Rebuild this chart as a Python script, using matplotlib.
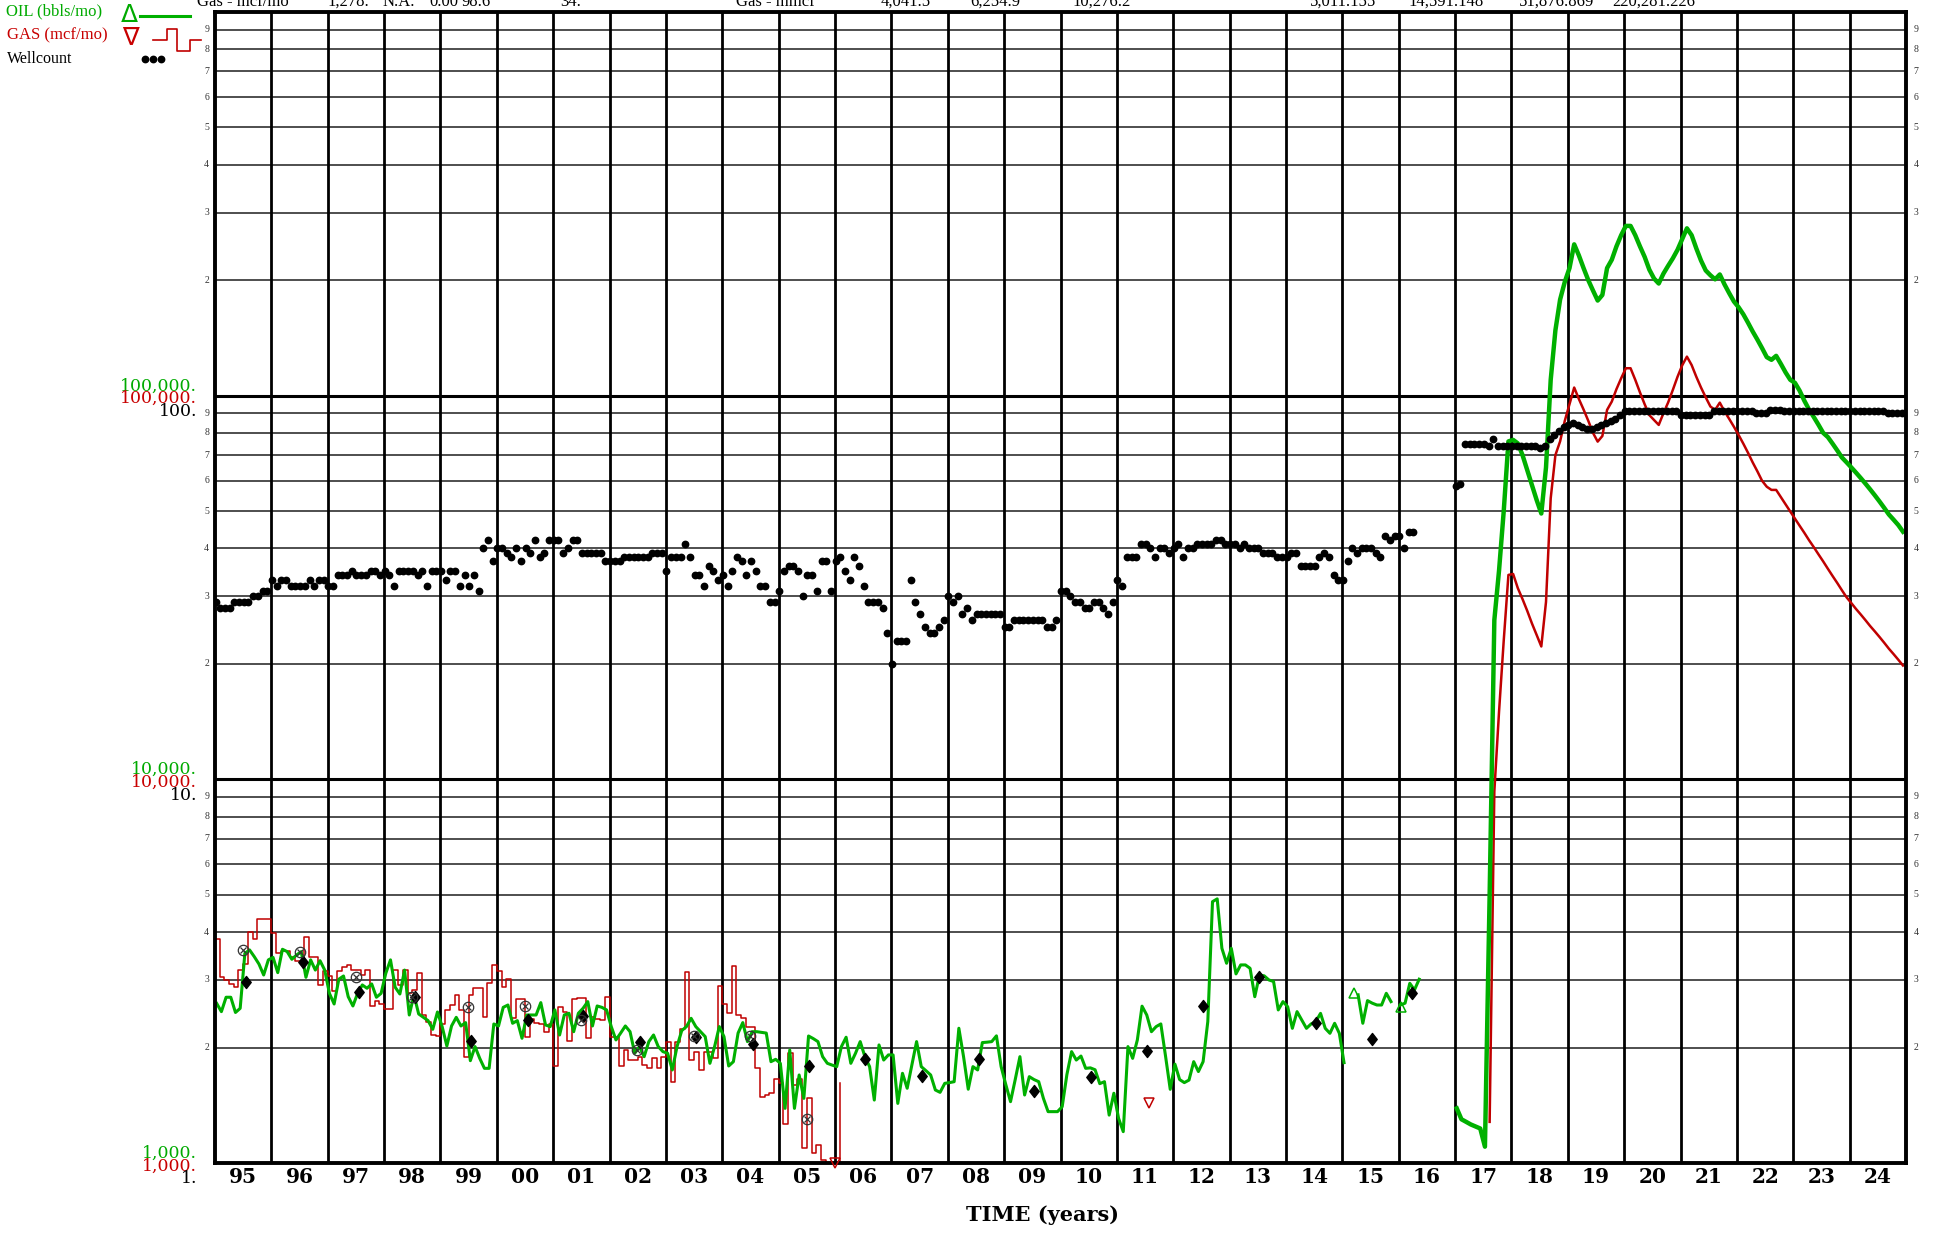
import matplotlib
matplotlib.use("Agg")
import matplotlib.pyplot as plt
import numpy as np
from matplotlib.lines import Line2D
from matplotlib.path import Path
from matplotlib.ticker import NullLocator
from matplotlib.transforms import blended_transform_factory

plt.rcParams["font.family"] = ["DejaVu Serif"]

oil_color = "#00b000"
gas_color = "#c00000"
nan = np.nan

first_year = 1995
last_year = 2024

# Monthly oil, bbls/mo, Jan 1995 .. May 2016 (nan = month not reported)
oil_hist = [
    2606, 2480, 2704, 2704, 2468, 2530, 3520, 3592, 3450, 3300, 3091, 3384,
    3435, 3135, 3606, 3556, 3396, 3485, 3556, 3048, 3384, 3183, 3367, 3183,
    2768, 2597, 3013, 3072, 2713, 2566, 2768, 2911, 2854, 2929, 2704, 2768,
    3122, 3384, 2871, 2757, 3183, 2431, 2741, 2446, 2397, 2350, 2231, 2475,
    2267, 2018, 2276, 2397, 2276, 2322, 1848, 2011, 1874, 1765, 1765, 2303,
    2276, 2545, 2581, 2313, 2350, 2114, 2431, 2431, 2431, 2618, 2290, 2267,
    2506, 2156, 2431, 2456, 2199, 2456, 2531, 2634, 2276, 2566, 2545, 2506,
    2267, 2093, 2181, 2276, 2199, 1932, 2011, 1893, 2072, 2156, 2011, 1951,
    1932, 1748, 2011, 2213, 2267, 2383, 2267, 2200, 2135, 1819, 2011, 2267,
    2135, 1790, 1837, 2181, 2322, 2072, 2199, 2199, 2190, 2181, 1837, 1863,
    1819, 1388, 1970, 1388, 1696, 1474, 2143, 2110, 2072, 1893, 1819, 1800,
    1783, 2011, 2127, 1819, 1932, 2072, 1893, 1783, 1459, 2031, 1855, 1913,
    1913, 1430, 1713, 1566, 1800, 2072, 1783, 1740, 1696, 1550, 1528, 1613,
    1620, 1629, 2245, 1893, 1557, 1783, 1748, 2060, 2065, 2072, 2145, 1783,
    1600, 1445, 1650, 1893, 1504, 1679, 1650, 1629, 1474, 1361, 1361, 1361,
    1402, 1700, 1951, 1855, 1900, 1765, 1770, 1750, 1610, 1629, 1333, 1520,
    1308, 1207, 2011, 1874, 2093, 2563, 2431, 2199, 2267, 2304, 1900, 1556,
    1810, 1650, 1620, 1645, 1837, 1731, 1837, 2337, 4799, 4880, 3627, 3316,
    3627, 3111, 3283, 3283, 3217, 2713, 3091, 3075, 3000, 2972, 2506, 2634,
    2555, 2244, 2480, 2360, 2244, 2304, 2337, 2455, 2244, 2178, 2313, 2178,
    1826, nan, nan, 2743, 2313, 2650, 2610, 2581, 2581, 2769, 2634, nan,
    2581, 2610, 2940, 2826, 3013,
]

# Monthly oil, bbls/mo, Jan 2017 .. Dec 2024
oil_new = [
    1388, 1300, 1280, 1260, 1245, 1230, 1103, 5000, 26000, 35000, 50000, 76000,
    76700, 75100, 70000, 64000, 58500, 53500, 49300, 65000, 110000, 148000, 178000, 198000,
    215000, 248000, 232000, 215000, 200000, 188000, 177000, 183000, 215000, 226000, 245000, 262000,
    277000, 277000, 262000, 245000, 230000, 213000, 202000, 196000, 208000, 218000, 228000, 240000,
    256000, 273000, 262000, 242000, 225000, 212000, 206000, 201000, 207000, 195000, 185000, 176000,
    170000, 163000, 155000, 147000, 140000, 133000, 126000, 124000, 127000, 121000, 115000, 110000,
    108000, 103000, 97000, 92000, 88000, 84000, 80000, 78000, 75000, 72000, 69000, 67000,
    65000, 63000, 61000, 59000, 57000, 55000, 53000, 51000, 49000, 47500, 46000, 44200,
]

# Monthly gas, mcf/mo, Jan 1995 .. Feb 2006 (values under 1,000 fall off the scale)
gas_hist = [
    3835, 3060, 3000, 2930, 2870, 3184, 3300, 3990, 3840, 4330, 4330, 4330,
    3970, 3520, 3570, 3570, 3440, 3370, 3370, 3880, 3440, 3440, 2910, 3170,
    3080, 2800, 3170, 3250, 3280, 3184, 3184, 3090, 3184, 2560, 2650, 2600,
    2520, 2520, 3190, 2910, 3190, 2770, 2820, 3130, 2430, 2330, 2160, 2140,
    2300, 2510, 2580, 2740, 2510, 1893, 2740, 2855, 2855, 2400, 2950, 3280,
    3170, 2870, 3013, 2383, 2680, 2670, 2130, 2370, 2310, 2300, 2200, 2300,
    1790, 2550, 2480, 2075, 2670, 2700, 2700, 2115, 2400, 2380, 2360, 2710,
    2130, 2130, 1790, 1970, 1860, 1860, 1893, 1800, 1765, 1874, 1765, 1893,
    2072, 1629, 2072, 2235, 3153, 1855, 1951, 1745, 1951, 1951, 1874, 2890,
    2600, 2466, 3262, 2431, 2383, 2268, 2268, 1765, 1490, 1504, 1520, 1660,
    1620, 1263, 1932, 1600, 1660, 1091, 1474, 1059, 1114, 1020, 900, 900,
    900, 1620,
]

# Monthly gas, mcf/mo, Aug 2017 .. Dec 2024
gas_new = [
    1280, 9300, 15000, 23000, 34100,
    34300, 31500, 29500, 27500, 25500, 23800, 22200, 29000, 54000, 70000, 76000, 86000,
    95000, 105000, 98000, 92000, 86000, 80000, 75900, 78500, 91800, 96500, 104000, 111000,
    117900, 117900, 110000, 102000, 95000, 89000, 86400, 83900, 90000, 96000, 103500, 112000,
    120000, 126400, 120200, 112000, 105000, 99000, 93700, 91800, 95900, 91000, 87000, 83000,
    79000, 75000, 71000, 67000, 63500, 60000, 57900, 56800, 56800, 54400, 52100, 49900,
    47800, 45800, 43900, 42000, 40300, 38600, 37000, 35400, 33900, 32500, 31100, 29800,
    28800, 27800, 26900, 26000, 25100, 24300, 23500, 22700, 21900, 21200, 20500, 19800,
]

# Monthly producing well count, Jan 1995 .. Apr 2016
wells_hist = [
    29, 28, 28, 28, 29, 29, 29, 29, 30, 30, 31, 31,
    33, 32, 33, 33, 32, 32, 32, 32, 33, 32, 33, 33,
    32, 32, 34, 34, 34, 35, 34, 34, 34, 35, 35, 34,
    35, 34, 32, 35, 35, 35, 35, 34, 35, 32, 35, 35,
    35, 33, 35, 35, 32, 34, 32, 34, 31, 40, 42, 37,
    40, 40, 39, 38, 40, 37, 40, 39, 42, 38, 39, 42,
    42, 42, 39, 40, 42, 42, 39, 39, 39, 39, 39, 37,
    37, 37, 37, 38, 38, 38, 38, 38, 38, 39, 39, 39,
    35, 38, 38, 38, 41, 38, 34, 34, 32, 36, 35, 33,
    34, 32, 35, 38, 37, 34, 37, 35, 32, 32, 29, 29,
    31, 35, 36, 36, 35, 30, 34, 34, 31, 37, 37, 31,
    37, 38, 35, 33, 38, 36, 32, 29, 29, 29, 28, 24,
    20, 23, 23, 23, 33, 29, 27, 25, 24, 24, 25, 26,
    30, 29, 30, 27, 28, 26, 27, 27, 27, 27, 27, 27,
    25, 25, 26, 26, 26, 26, 26, 26, 26, 25, 25, 26,
    31, 31, 30, 29, 29, 28, 28, 29, 29, 28, 27, 29,
    33, 32, 38, 38, 38, 41, 41, 40, 38, 40, 40, 39,
    40, 41, 38, 40, 40, 41, 41, 41, 41, 42, 42, 41,
    41, 41, 40, 41, 40, 40, 40, 39, 39, 39, 38, 38,
    38, 39, 39, 36, 36, 36, 36, 38, 39, 38, 34, 33,
    33, 37, 40, 39, 40, 40, 40, 39, 38, 43, 42, 43,
    43, 40, 44, 44,
]

# Monthly producing well count, Jan 2017 .. Dec 2024
wells_new = [
    58, 59, 75, 75, 75, 75, 75, 74, 77, 74, 74, 74,
    74, 74, 74, 74, 74, 74, 73, 74, 77, 79, 81, 83,
    84, 85, 84, 83, 82, 82, 83, 84, 85, 86, 87, 89,
    91, 91, 91, 91, 91, 91, 91, 91, 91, 91, 91, 91,
    89, 89, 89, 89, 89, 89, 89, 91, 91, 91, 91, 91,
    91, 91, 91, 91, 90, 90, 90, 92, 92, 92, 91, 91,
    91, 91, 91, 91, 91, 91, 91, 91, 91, 91, 91, 91,
    91, 91, 91, 91, 91, 91, 91, 91, 90, 90, 90, 90,
]

# Yearly average oil (diamonds) and gas (circled x)
oil_avg_dates = [1995.55, 1996.56, 1997.55, 1998.55, 1999.54, 2000.55, 2001.53, 2002.54,
                 2003.53, 2004.54, 2005.54, 2006.54, 2007.54, 2008.55, 2009.53, 2010.54,
                 2011.54, 2012.53, 2013.53, 2014.54, 2015.53, 2016.23]
oil_avg = [2970, 3349, 2797, 2704, 2084, 2359, 2417, 2072, 2127, 2043, 1793, 1866,
           1689, 1866, 1544, 1673, 1964, 2563, 3048, 2313, 2103, 2780]
gas_avg_dates = [1995.49, 1996.50, 1997.50, 1998.50, 1999.49, 2000.50, 2001.50, 2002.49,
                 2003.49, 2004.50, 2005.50]
gas_avg = [3592, 3540, 3047, 2713, 2553, 2560, 2359, 1975, 2143, 2143, 1302]

# Flagged points: open triangles
oil_flag_dates = [2015.21, 2016.04]
oil_flag = [2780, 2555]
gas_flag_dates = [2006.0, 2011.57]
gas_flag = [1000, 1430]

decade_values = [1e3, 1e4, 1e5]
oil_decade_labels = ["1,000.", "10,000.", "100,000."]
gas_decade_labels = ["1,000.", "10,000.", "100,000."]
well_decade_labels = ["1.", "10.", "100."]

header_labels = ["Gas - mcf/mo", "1,278.", "N.A.", "0.00", "98.6", "34.", "Gas - mmcf",
                 "4,041.5", "6,254.9", "10,276.2", "5,011.155", "14,591.148",
                 "51,876.869", "220,281.226"]


def month_times(start_year, start_month, count, shift):
    return start_year + (start_month - 1 + np.arange(count)) / 12.0 + shift


def main():
    W, H = 1934, 1233
    fig = plt.figure(figsize=(W / 100, H / 100), dpi=100)
    fig.patch.set_facecolor("white")
    ax = fig.add_axes([215 / W, (H - 1163) / H, (1906 - 215) / W, (1163 - 12) / H])
    ax.set_yscale("log")
    ax.set_xlim(first_year, last_year + 1)
    ax.set_ylim(1e3, 1e6)
    for axis in (ax.xaxis, ax.yaxis):
        axis.set_major_locator(NullLocator())
        axis.set_minor_locator(NullLocator())
    for spine in ax.spines.values():
        spine.set_linewidth(2.8)
        spine.set_zorder(6)

    # grid: 2..9 in every decade, heavier decade lines, one line per year
    for decade in decade_values:
        for k in range(2, 10):
            ax.axhline(k * decade, color="#1e1e1e", lw=1.1, zorder=1)
    for decade in decade_values[1:]:
        ax.axhline(decade, color="black", lw=2.2, zorder=1)
    for yr in range(first_year + 1, last_year + 1):
        ax.axvline(yr, color="black", lw=2.0, zorder=1)

    # small 2..9 labels on both sides
    side_tf = blended_transform_factory(ax.transAxes, ax.transData)
    for decade in decade_values:
        for k in range(2, 10):
            ax.text(-0.0035, k * decade, str(k), transform=side_tf, ha="right", va="center",
                    fontsize=7, family="Liberation Serif", color="#333333")
            ax.text(1.0045, k * decade, str(k), transform=side_tf, ha="left", va="center",
                    fontsize=7, family="Liberation Serif", color="#333333")

    # decade labels: oil, gas and wellcount stacked at each decade line
    for value, oil_text, gas_text, well_text in zip(decade_values, oil_decade_labels,
                                                    gas_decade_labels, well_decade_labels):
        for text, color, dy in ((oil_text, "#00aa00", 7.0), (gas_text, "#c80000", -2.2),
                                (well_text, "black", -11.5)):
            ax.annotate(text, xy=(-0.0106, value), xycoords=side_tf, xytext=(0, dy),
                        textcoords="offset points", ha="right", va="center", color=color,
                        fontsize=12.5, annotation_clip=False)

    # year labels under each column
    bottom_tf = blended_transform_factory(ax.transData, ax.transAxes)
    for yr in range(first_year, last_year + 1):
        ax.annotate(f"{yr % 100:02d}", xy=(yr + 0.5, 0), xycoords=bottom_tf, xytext=(0, -10),
                    textcoords="offset points", ha="center", va="center", fontsize=14.5,
                    fontweight="bold", annotation_clip=False)
    fig.text(1042 / W, 1 - 1215 / H, "TIME (years)", ha="center", va="center", fontsize=15,
             fontweight="bold")

    # production curves
    ax.plot(month_times(1995, 1, len(gas_hist), 0.0), gas_hist, drawstyle="steps-post",
            color=gas_color, lw=1.1, zorder=3)
    ax.plot(month_times(1995, 1, len(oil_hist), 0.03), oil_hist, color=oil_color, lw=2.2,
            zorder=4)
    ax.plot(month_times(2017, 8, len(gas_new), 0.03), gas_new, color=gas_color, lw=1.8, zorder=3)
    ax.plot(month_times(2017, 1, len(oil_new), 0.03), oil_new, color=oil_color, lw=3.2, zorder=4)

    diamond = Path([(0, 1), (0.78, 0), (0, -1), (-0.78, 0), (0, 1)],
                   [Path.MOVETO, Path.LINETO, Path.LINETO, Path.LINETO, Path.CLOSEPOLY])
    ax.plot(oil_avg_dates, oil_avg, ls="none", marker=diamond, ms=8.7, color="black", zorder=7)
    ax.plot(gas_avg_dates, gas_avg, ls="none", marker="o", ms=7.5, mfc="none", mec="#333333",
            mew=0.9, zorder=7)
    ax.plot(gas_avg_dates, gas_avg, ls="none", marker="x", ms=4.5, color="#333333", mew=0.9,
            zorder=7)
    ax.plot(oil_flag_dates, oil_flag, ls="none", marker="^", ms=7, mfc="none", mec=oil_color,
            mew=1.1, zorder=7)
    ax.plot(gas_flag_dates, gas_flag, ls="none", marker="v", ms=7, mfc="none", mec=gas_color,
            mew=1.1, zorder=7, clip_on=False)

    # wellcount on its own 1..1000 log scale
    wax = ax.twinx()
    wax.set_yscale("log")
    wax.set_ylim(1, 1000)
    wax.axis("off")
    wax.plot(month_times(1995, 1, len(wells_hist), 0.01), wells_hist, ls="none", marker="o",
             ms=4.6, color="black")
    wax.plot(month_times(2017, 1, len(wells_new), 0.01), wells_new, ls="none", marker="o",
             ms=4.6, color="black")

    # header row, clipped at the top edge of the page
    header_x = [197, 327, 383, 429, 461, 560, 736, 881, 970, 1072, 1310, 1408, 1519, 1612]
    for text, x in zip(header_labels, header_x):
        fig.text(x / W, 1 - 6 / H, text, ha="left", va="baseline", fontsize=12,
                 family="Liberation Serif")

    # legend block, top left
    fig.text(6 / W, 1 - 11 / H, "OIL (bbls/mo)", color="#00aa00", fontsize=12,
             family="Liberation Serif", va="center")
    fig.text(129 / W, 1 - 15 / H, "\u0394", color="#00aa00", fontsize=18,
             family=["DejaVu Sans"], ha="center", va="center")
    fig.add_artist(Line2D([140 / W, 190 / W], [1 - 16 / H, 1 - 16 / H], color=oil_color, lw=2.2))
    fig.text(7 / W, 1 - 35 / H, "GAS (mcf/mo)", color="#c80000", fontsize=12,
             family="Liberation Serif", va="center")
    fig.text(130 / W, 1 - 37 / H, "\u2207", color="#c80000", fontsize=18,
             family=["DejaVu Sans"], ha="center", va="center")
    step_x = [153, 167, 167, 177, 177, 190, 190, 201]
    step_y = [40, 40, 29, 29, 51, 51, 40, 40]
    fig.add_artist(Line2D([x / W for x in step_x], [1 - y / H for y in step_y], color=gas_color,
                          lw=1.2))
    fig.text(7 / W, 1 - 59 / H, "Wellcount", color="black", fontsize=11.5,
             family="Liberation Serif", va="center")
    fig.add_artist(Line2D([145 / W, 153 / W, 161 / W], [1 - 59 / H] * 3, ls="none", marker="o",
                          ms=4.6, color="black"))

    fig.savefig("out.png", dpi=100)


if __name__ == "__main__":
    main()
